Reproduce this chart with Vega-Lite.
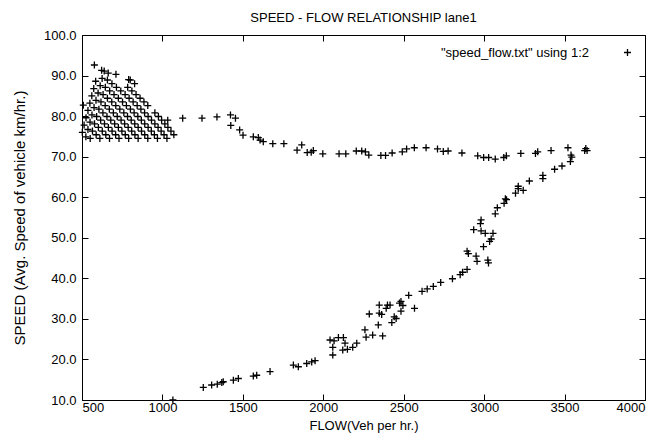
{
"$schema": "https://vega.github.io/schema/vega-lite/v6.json",
"width": 563, "height": 365,
"autosize": {"type": "none"},
"padding": {"left": 82, "top": 35, "right": 13, "bottom": 34},
"background": "white",
"title": {"text": "SPEED - FLOW RELATIONSHIP lane1", "font": "Liberation Sans", "fontSize": 13, "fontWeight": "normal", "color": "black", "anchor": "middle", "offset": 4},
"config": {
  "view": {"stroke": "black", "strokeWidth": 1},
  "axis": {"grid": false, "domain": false, "labelFont": "Liberation Sans", "labelFontSize": 13, "labelColor": "black", "titleFont": "Liberation Sans", "titleFontSize": 13, "titleFontWeight": "normal", "titleColor": "black", "tickColor": "black", "tickSize": -6, "tickWidth": 1}
},
"data": {"values": [
{"flow":502,"speed":76},{"flow":513,"speed":77.8},{"flow":525,"speed":79.6},{"flow":537,"speed":81.4},{"flow":549,"speed":83.2},{"flow":561,"speed":85},{"flow":573,"speed":86.8},{"flow":585,"speed":88.6},
{"flow":524,"speed":74.9},{"flow":537,"speed":76.7},{"flow":550,"speed":78.5},{"flow":562,"speed":80.3},{"flow":575,"speed":82.1},{"flow":587,"speed":83.9},{"flow":600,"speed":85.7},{"flow":613,"speed":87.5},{"flow":625,"speed":89.3},{"flow":638,"speed":91.1},
{"flow":551,"speed":74.5},{"flow":565,"speed":76.3},{"flow":578,"speed":78.1},{"flow":591,"speed":79.9},{"flow":605,"speed":81.7},{"flow":618,"speed":83.5},{"flow":631,"speed":85.3},{"flow":645,"speed":87.1},{"flow":658,"speed":88.9},
{"flow":588,"speed":75.4},{"flow":602,"speed":77.2},{"flow":616,"speed":79},{"flow":630,"speed":80.8},{"flow":644,"speed":82.6},{"flow":658,"speed":84.4},{"flow":672,"speed":86.2},{"flow":686,"speed":88},
{"flow":611,"speed":74.5},{"flow":626,"speed":76.3},{"flow":640,"speed":78.1},{"flow":655,"speed":79.9},{"flow":670,"speed":81.7},{"flow":685,"speed":83.5},{"flow":699,"speed":85.3},{"flow":714,"speed":87.1},
{"flow":648,"speed":75.4},{"flow":664,"speed":77.2},{"flow":679,"speed":79},{"flow":695,"speed":80.8},{"flow":710,"speed":82.6},{"flow":726,"speed":84.4},{"flow":741,"speed":86.2},
{"flow":671,"speed":74.5},{"flow":687,"speed":76.3},{"flow":703,"speed":78.1},{"flow":719,"speed":79.9},{"flow":735,"speed":81.7},{"flow":752,"speed":83.5},{"flow":768,"speed":85.3},{"flow":784,"speed":87.1},{"flow":800,"speed":88.9},
{"flow":709,"speed":75.4},{"flow":726,"speed":77.2},{"flow":743,"speed":79},{"flow":760,"speed":80.8},{"flow":776,"speed":82.6},{"flow":793,"speed":84.4},{"flow":810,"speed":86.2},{"flow":827,"speed":88},
{"flow":730,"speed":74.5},{"flow":748,"speed":76.3},{"flow":765,"speed":78.1},{"flow":783,"speed":79.9},{"flow":801,"speed":81.7},{"flow":818,"speed":83.5},{"flow":836,"speed":85.3},
{"flow":769,"speed":75.4},{"flow":787,"speed":77.2},{"flow":806,"speed":79},{"flow":824,"speed":80.8},{"flow":843,"speed":82.6},{"flow":861,"speed":84.4},
{"flow":790,"speed":74.5},{"flow":809,"speed":76.3},{"flow":828,"speed":78.1},{"flow":847,"speed":79.9},{"flow":866,"speed":81.7},{"flow":885,"speed":83.5},
{"flow":829,"speed":75.4},{"flow":849,"speed":77.2},{"flow":869,"speed":79},{"flow":889,"speed":80.8},{"flow":909,"speed":82.6},
{"flow":849,"speed":74.5},{"flow":870,"speed":76.3},{"flow":890,"speed":78.1},{"flow":911,"speed":79.9},
{"flow":890,"speed":75.4},{"flow":911,"speed":77.2},{"flow":932,"speed":79},{"flow":953,"speed":80.8},
{"flow":909,"speed":74.5},{"flow":931,"speed":76.3},{"flow":953,"speed":78.1},{"flow":975,"speed":79.9},
{"flow":950,"speed":75.4},{"flow":973,"speed":77.2},{"flow":995,"speed":79},
{"flow":969,"speed":74.5},{"flow":992,"speed":76.3},{"flow":1015,"speed":78.1},
{"flow":1010,"speed":75.4},{"flow":1034,"speed":77.2},
{"flow":1028,"speed":74.5},{"flow":1053,"speed":76.3},{"flow":1071,"speed":75.4},
{"flow":577,"speed":92.6},{"flow":622,"speed":91.3},{"flow":663,"speed":90.6},{"flow":711,"speed":90.3},{"flow":790,"speed":89},{"flow":1033,"speed":79},{"flow":508,"speed":82.7},
{"flow":1126,"speed":79.5},{"flow":1246,"speed":79.5},{"flow":1339,"speed":79.8},{"flow":1423,"speed":80.3},{"flow":1454,"speed":79.5},{"flow":1425,"speed":77.7},{"flow":1480,"speed":76.6},{"flow":1501,"speed":75.3},{"flow":1565,"speed":74.9},{"flow":1596,"speed":74.7},{"flow":1607,"speed":74.1},{"flow":1627,"speed":73.7},{"flow":1686,"speed":73.2},{"flow":1755,"speed":73.2},{"flow":1837,"speed":71.6},{"flow":1866,"speed":72.9},{"flow":1900,"speed":71.0},{"flow":1925,"speed":71.1},{"flow":1938,"speed":71.5},{"flow":1997,"speed":70.7},{"flow":2098,"speed":70.7},{"flow":2140,"speed":70.7},{"flow":2205,"speed":71.4},{"flow":2239,"speed":71.4},{"flow":2262,"speed":71.2},{"flow":2283,"speed":70.4},{"flow":2358,"speed":70.3},{"flow":2387,"speed":70.3},{"flow":2428,"speed":70.9},{"flow":2491,"speed":71.2},{"flow":2518,"speed":71.9},{"flow":2566,"speed":72.2},{"flow":2639,"speed":72.2},{"flow":2710,"speed":71.9},{"flow":2746,"speed":71.3},{"flow":2776,"speed":71.4},{"flow":2862,"speed":70.9},{"flow":2960,"speed":70.2},{"flow":2997,"speed":69.8},{"flow":3028,"speed":69.8},{"flow":3069,"speed":69.4},{"flow":3122,"speed":69.8},{"flow":3138,"speed":70.2},{"flow":3228,"speed":70.8},{"flow":3319,"speed":70.8},{"flow":3333,"speed":71.2},{"flow":3416,"speed":71.5},{"flow":3521,"speed":72.2},{"flow":3625,"speed":71.5},{"flow":3640,"speed":71.5},{"flow":3632,"speed":72.0},
{"flow":1065,"speed":10.0},
{"flow":1254,"speed":13.1},{"flow":1306,"speed":13.7},{"flow":1341,"speed":13.9},{"flow":1369,"speed":14.3},{"flow":1378,"speed":14.5},{"flow":1441,"speed":14.9},{"flow":1472,"speed":15.3},{"flow":1565,"speed":15.9},{"flow":1586,"speed":16.1},{"flow":1669,"speed":17.0},
{"flow":1814,"speed":18.6},{"flow":1845,"speed":18.2},{"flow":1897,"speed":19.0},{"flow":1928,"speed":19.4},{"flow":1949,"speed":19.7},
{"flow":2042,"speed":24.8},{"flow":2067,"speed":24.6},{"flow":2094,"speed":25.4},{"flow":2059,"speed":23.0},{"flow":2059,"speed":21.1},{"flow":2125,"speed":25.4},{"flow":2135,"speed":24.0},{"flow":2121,"speed":22.3},{"flow":2150,"speed":22.5},{"flow":2183,"speed":23.0},{"flow":2208,"speed":24.0},{"flow":2259,"speed":27.3},{"flow":2266,"speed":25.5},{"flow":2286,"speed":31.2},{"flow":2307,"speed":26.0},{"flow":2348,"speed":33.4},{"flow":2348,"speed":31.4},{"flow":2342,"speed":28.5},
{"flow":2363,"speed":31.1},{"flow":2369,"speed":25.8},{"flow":2391,"speed":32.6},{"flow":2399,"speed":33.4},{"flow":2415,"speed":33.4},{"flow":2426,"speed":29.1},{"flow":2441,"speed":30.5},{"flow":2453,"speed":30.1},{"flow":2474,"speed":33.9},{"flow":2483,"speed":34.3},{"flow":2483,"speed":31.9},{"flow":2495,"speed":33.3},{"flow":2531,"speed":35.8},{"flow":2567,"speed":32.6},{"flow":2614,"speed":36.8},{"flow":2646,"speed":37.4},{"flow":2684,"speed":38.0},{"flow":2730,"speed":39.0},{"flow":2803,"speed":39.9},{"flow":2851,"speed":40.9},{"flow":2866,"speed":41.5},{"flow":2894,"speed":42.2},{"flow":2950,"speed":45.5},{"flow":2956,"speed":44.2},{"flow":3023,"speed":44.5},{"flow":3027,"speed":43.8},{"flow":2894,"speed":46.7},{"flow":2902,"speed":46.1},{"flow":2996,"speed":47.8},{"flow":3034,"speed":49.1},{"flow":3044,"speed":49.7},{"flow":3055,"speed":51.1},{"flow":3007,"speed":51.1},{"flow":2981,"speed":51.7},{"flow":2935,"speed":52.0},{"flow":2977,"speed":53.5},{"flow":2981,"speed":54.4},{"flow":3069,"speed":55.9},{"flow":3082,"speed":57.4},{"flow":3124,"speed":58.5},{"flow":3132,"speed":59.6},{"flow":3139,"speed":59.4},{"flow":3195,"speed":61.0},{"flow":3212,"speed":62.1},{"flow":3212,"speed":62.7},{"flow":3243,"speed":61.7},{"flow":3281,"speed":64.0},{"flow":3365,"speed":65.4},{"flow":3365,"speed":64.6},{"flow":3438,"speed":66.9},{"flow":3484,"speed":67.7},{"flow":3536,"speed":68.8},{"flow":3545,"speed":69.9},{"flow":3540,"speed":70.4}
]},
"layer": [
  {
    "mark": {"type": "point", "shape": "M-1,0H1M0,-1V1", "size": 49, "strokeWidth": 1.3, "filled": false, "opacity": 1},
    "encoding": {
      "x": {"field": "flow", "type": "quantitative", "scale": {"domain": [500, 4000], "nice": false, "zero": false},
            "axis": {"orient": "bottom", "values": [500,1000,1500,2000,2500,3000,3500,4000], "format": "d", "labelPadding": 7, "title": "FLOW(Veh per hr.)", "titlePadding": 5}},
      "y": {"field": "speed", "type": "quantitative", "scale": {"domain": [10, 100], "nice": false, "zero": false},
            "axis": {"orient": "left", "values": [10,20,30,40,50,60,70,80,90,100], "format": ".1f", "labelPadding": 12, "title": "SPEED (Avg. Speed of vehicle km/hr.)", "titleFontSize": 15, "titlePadding": 16}},
      "color": {"datum": "\"speed_flow.txt\" using 1:2", "type": "nominal", "scale": {"range": ["black"]},
            "legend": {"orient": "top-right", "title": null, "offset": 11, "padding": 0, "labelFont": "Liberation Sans", "labelFontSize": 13, "labelColor": "black", "labelAlign": "right", "labelOffset": -45, "symbolType": "M-1,0H1M0,-1V1", "symbolSize": 49, "symbolStrokeWidth": 1.3, "symbolStrokeColor": "black", "symbolFillColor": "transparent"}}
    }
  },
  {
    "mark": {"type": "point", "opacity": 0},
    "encoding": {
      "x": {"field": "flow", "type": "quantitative", "axis": {"orient": "top", "values": [500,1000,1500,2000,2500,3000,3500,4000], "labels": false, "title": null}},
      "y": {"field": "speed", "type": "quantitative", "axis": {"orient": "right", "values": [10,20,30,40,50,60,70,80,90,100], "labels": false, "title": null}}
    }
  }
],
"resolve": {"axis": {"x": "independent", "y": "independent"}}
}
